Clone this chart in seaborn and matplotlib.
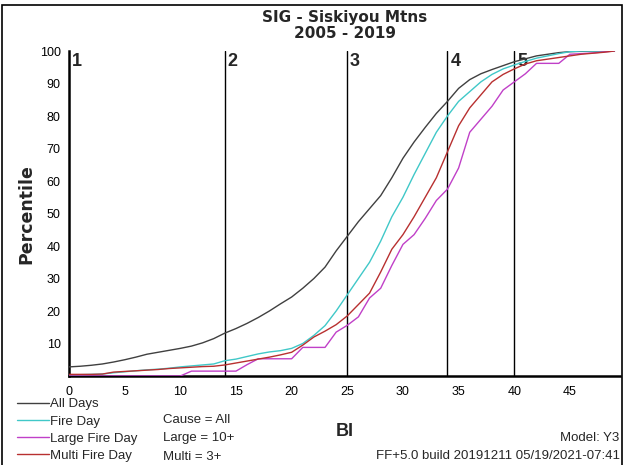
import matplotlib
matplotlib.use("Agg")
import matplotlib.pyplot as plt
import seaborn as sns
import pandas as pd
from matplotlib.patches import Rectangle

# Burning Index values (x axis)
bi = list(range(0, 50))

all_days = [2.8, 3.0, 3.3, 3.7, 4.3, 5.0, 5.8, 6.7, 7.3, 7.9,
            8.5, 9.2, 10.2, 11.5, 13.2, 14.6, 16.2, 18.0, 20.0, 22.2,
            24.3, 27.0, 30.0, 33.5, 38.5, 43.0, 47.5, 51.5, 55.5, 61.0,
            67.0, 72.0, 76.5, 80.8, 84.5, 88.5, 91.2, 93.0, 94.3, 95.5,
            96.7, 97.6, 98.5, 99.0, 99.5, 99.8, 99.9, 100.0, 100.0, 100.0]

fire_day = [0.4, 0.4, 0.5, 0.6, 1.0, 1.3, 1.6, 1.9, 2.1, 2.4,
            2.8, 3.1, 3.4, 3.7, 4.7, 5.2, 6.0, 6.8, 7.4, 7.8,
            8.5, 10.0, 12.5, 15.5, 20.0, 25.0, 30.0, 35.0, 41.5, 49.0,
            55.0, 62.0, 68.5, 75.0, 80.0, 84.5, 87.5, 90.5, 92.8, 94.5,
            95.7, 96.8, 97.8, 98.5, 99.2, 99.8, 100.0, 100.0, 100.0, 100.0]

large_fire_day = [0.0, 0.0, 0.0, 0.0, 0.0, 0.0, 0.0, 0.0, 0.0, 0.0,
                  0.0, 1.5, 1.5, 1.5, 1.5, 1.5, 3.5, 5.3, 5.3, 5.3,
                  5.3, 8.8, 8.8, 8.8, 13.5, 15.6, 18.2, 24.0, 27.0, 34.0,
                  40.5, 43.5, 48.5, 54.0, 57.5, 64.0, 75.0, 79.0, 83.0, 88.0,
                  90.5, 93.0, 96.2, 96.2, 96.2, 99.0, 99.2, 99.4, 99.7, 100.0]

multi_fire_day = [0.5, 0.5, 0.5, 0.6, 1.2, 1.4, 1.6, 1.8, 2.0, 2.3,
                  2.5, 2.7, 2.9, 3.0, 3.4, 4.0, 4.6, 5.2, 5.8, 6.5,
                  7.3, 9.5, 12.0, 13.8, 15.8, 18.5, 22.0, 25.5, 32.0, 39.0,
                  43.5, 49.0, 55.0, 61.0, 69.0, 77.0, 82.5, 86.5, 90.5, 92.8,
                  94.5, 96.0, 97.0, 97.5, 98.0, 98.5, 99.0, 99.3, 99.6, 100.0]

series_names = ["All Days", "Fire Day", "Large Fire Day", "Multi Fire Day"]
series_colors = ["#404040", "#40c8c8", "#c040c8", "#b83030"]

# Fire danger class breakpoints and their labels
class_breaks = [0, 14, 25, 34, 40]
class_labels = ["1", "2", "3", "4", "5"]

x_ticks = list(range(0, 50, 5))
y_ticks = list(range(10, 101, 10))

df = pd.DataFrame({
    "BI": bi * 4,
    "Percentile": all_days + fire_day + large_fire_day + multi_fire_day,
    "Series": [n for n in series_names for _ in bi],
})

sns.set_style("white")
plt.rcParams["font.family"] = ["Liberation Sans", "DejaVu Sans"]

fig = plt.figure(figsize=(6.24, 4.65), dpi=100)
ax = fig.add_axes([0.1106, 0.1914, 0.8830, 0.6989])

# Class breakpoint lines and numbers
for xb in class_breaks[1:]:
    ax.plot([xb, xb], [0, 100], color="black", lw=1.0, zorder=1)
for xb, lab in zip(class_breaks, class_labels):
    ax.text(xb + 0.25, 99.3, lab, fontsize=13, fontweight="bold",
            ha="left", va="top", zorder=1)

sns.lineplot(data=df, x="BI", y="Percentile", hue="Series",
             hue_order=series_names, palette=series_colors,
             linewidth=1.0, ax=ax, legend=False, zorder=3)

ax.set_xlim(0, 49.5)
ax.set_ylim(0, 100)
ax.set_xticks(x_ticks)
ax.set_yticks(y_ticks)
ax.tick_params(axis="both", direction="out", length=4, width=1,
               labelsize=9, pad=2, colors="black")
ax.tick_params(axis="x", pad=3)
for s in ["top", "right"]:
    ax.spines[s].set_visible(False)
for s in ["left", "bottom"]:
    ax.spines[s].set_linewidth(1.8)
    ax.spines[s].set_color("black")

ax.set_xlabel("")
ax.set_ylabel("")
fig.text(0.553, 0.071, "BI", fontsize=13, fontweight="bold",
         ha="center", va="center")
fig.text(0.043, 0.54, "Percentile", fontsize=12.5, fontweight="bold",
         family="DejaVu Sans", rotation=90, ha="center", va="center")

fig.text(0.553, 0.962, "SIG - Siskiyou Mtns", fontsize=11,
         fontweight="bold", family="DejaVu Sans", ha="center", va="center")
fig.text(0.553, 0.927, "2005 - 2019", fontsize=11,
         fontweight="bold", family="DejaVu Sans", ha="center", va="center")

# Legend
handles = [plt.Line2D([0], [0], color=c, lw=1.0) for c in series_colors]
fig.legend(handles, series_names, loc="upper left",
           bbox_to_anchor=(0.027, 0.144), frameon=False, fontsize=9.5,
           handlelength=2.4, handletextpad=0.1, labelspacing=0.38,
           borderpad=0, borderaxespad=0)

# Run settings and build stamp
fig.text(0.261, 0.097, "Cause = All", fontsize=9.5, ha="left", va="center")
fig.text(0.261, 0.057, "Large = 10+", fontsize=9.5, ha="left", va="center")
fig.text(0.261, 0.018, "Multi = 3+", fontsize=9.5, ha="left", va="center")
fig.text(0.993, 0.059, "Model: Y3", fontsize=9.5, ha="right", va="center")
fig.text(0.993, 0.020, "FF+5.0 build 20191211 05/19/2021-07:41",
         fontsize=9.5, ha="right", va="center")

# Outer frame
fig.patches.append(Rectangle((0.003, -0.01), 0.993, 0.999, fill=False,
                             edgecolor="black", lw=1.2,
                             transform=fig.transFigure, figure=fig))

fig.savefig("out.png", dpi=100)
